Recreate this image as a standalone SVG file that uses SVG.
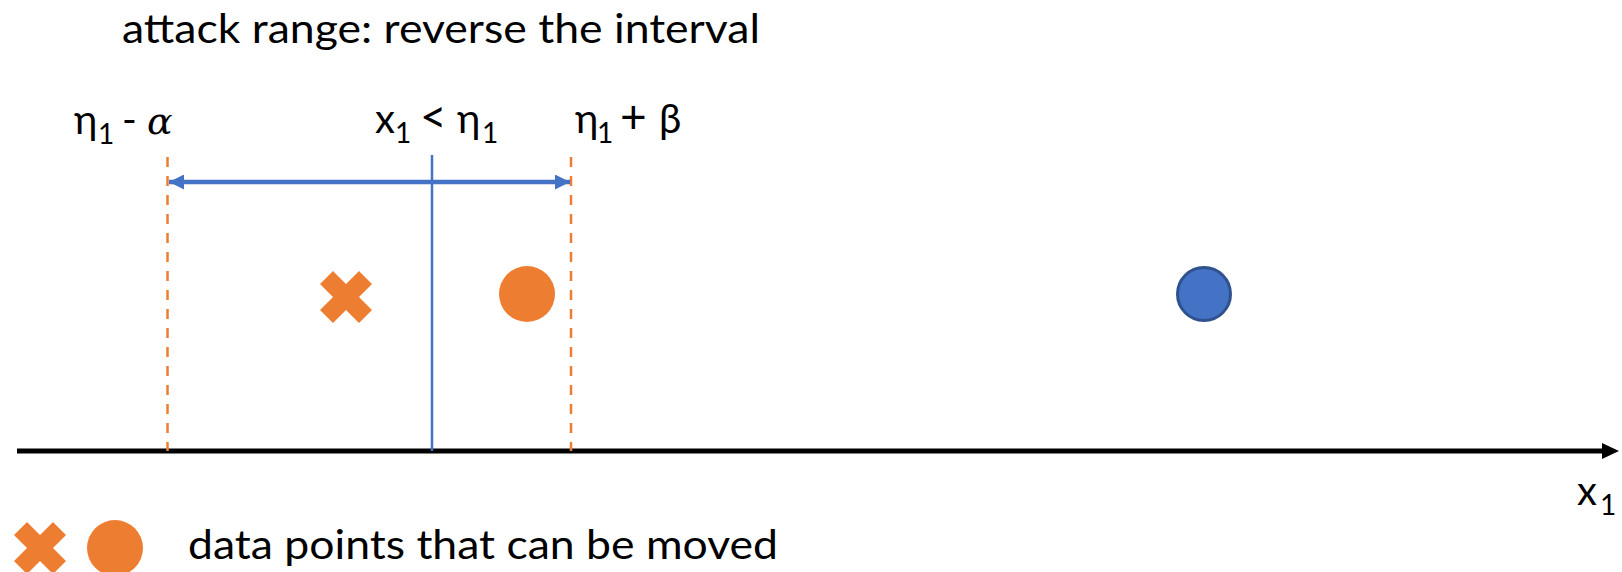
<svg xmlns="http://www.w3.org/2000/svg" width="1622" height="572" viewBox="0 0 1622 572">
<style>
.t{font-family:Lato,"Open Sans",sans-serif;font-size:40px;fill:#000}
.sub{font-size:28px}
.op{font-size:46px}
.math{font-family:"DejaVu Serif","Liberation Serif",serif;font-style:italic;font-size:38px}
.dash{stroke:#ED7D31;stroke-width:2.5;stroke-dasharray:10 9;fill:none}
.orange{fill:#ED7D31}
</style>
<defs>
<marker id="ah" viewBox="0 0 15 15" refX="15" refY="7.5" markerWidth="15" markerHeight="15" markerUnits="userSpaceOnUse" orient="auto-start-reverse">
<path d="M0,0 L15,7.5 L0,15 Z" fill="#4472C4"/>
</marker>
</defs>
<rect width="1622" height="572" fill="#fff"/>
<g id="title"><text class="t" x="122" y="43" textLength="638" lengthAdjust="spacingAndGlyphs">attack range: reverse the interval</text></g>
<g id="connectors">
<line x1="17" y1="451" x2="1604" y2="451" stroke="#000" stroke-width="5"/>
<polygon points="1602,443 1619,451 1602,459" fill="#000"/>
<line class="dash" x1="167.5" y1="157" x2="167.5" y2="451"/>
<line class="dash" x1="571" y1="157" x2="571" y2="451"/>
<line x1="432" y1="155" x2="432" y2="451" stroke="#4472C4" stroke-width="2.5"/>
<line x1="169" y1="182" x2="570" y2="182" stroke="#4472C4" stroke-width="4.5" marker-start="url(#ah)" marker-end="url(#ah)"/>
</g>
<g id="label-left"><text class="t" y="134"><tspan x="74">η</tspan><tspan class="sub" x="98" dy="10">1</tspan><tspan x="122" dy="-10">-</tspan><tspan class="math" x="147">α</tspan></text></g>
<g id="label-mid"><text class="t" y="133"><tspan x="375">x</tspan><tspan class="sub" x="395" dy="10">1</tspan><tspan class="op" x="420" dy="-10">&lt;</tspan><tspan x="457">η</tspan><tspan class="sub" x="482" dy="10">1</tspan></text></g>
<g id="label-right"><text class="t" y="133"><tspan x="575">η</tspan><tspan class="sub" x="597" dy="10">1</tspan><tspan class="op" x="620" dy="-10">+</tspan><tspan x="659">β</tspan></text></g>
<g id="cross-point"><polygon class="orange" points="333,271 346,284 359,271 372,284 359,297 372,310 359,323 346,310 333,323 320,310 333,297 320,284"/></g>
<g id="orange-point"><circle class="orange" cx="527" cy="294" r="28"/></g>
<g id="blue-point"><circle cx="1204" cy="294" r="26.5" fill="#4472C4" stroke="#2F528F" stroke-width="3"/></g>
<g id="axis-label"><text class="t"><tspan x="1577" y="505">x</tspan><tspan class="sub" x="1600" y="515">1</tspan></text></g>
<g id="legend">
<polygon class="orange" points="27,522 40,535 53,522 66,535 53,548 66,561 53,574 40,561 27,574 14,561 27,548 14,535"/>
<circle class="orange" cx="115" cy="548" r="28"/>
<text class="t" x="188" y="559" textLength="590" lengthAdjust="spacingAndGlyphs">data points that can be moved</text>
</g>
</svg>
